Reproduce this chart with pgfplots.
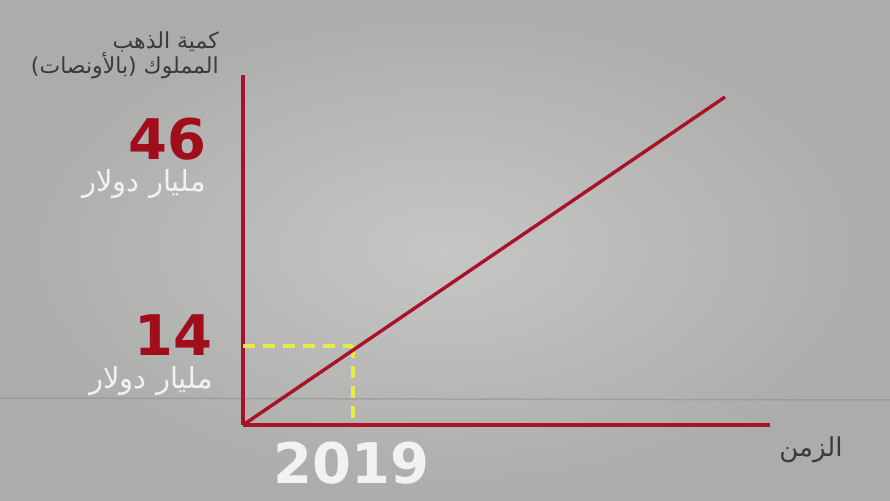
\documentclass[border=0pt]{standalone}
\usepackage{pgfplots}
\pgfplotsset{compat=1.18}
\usepackage{fontspec}
\setmainfont{DejaVu Sans}
\newfontfamily\arabicfont[Script=Arabic]{DejaVu Sans}
\newfontfamily\numfont{DejaVu Sans}
\TeXXeTstate=1
\definecolor{bg}{RGB}{172,172,170}
\definecolor{bglight}{RGB}{198,198,196}
\definecolor{axred}{RGB}{168,18,42}
\definecolor{numred}{RGB}{160,14,28}
\definecolor{dashyel}{RGB}{232,234,70}
\definecolor{labgray}{RGB}{58,58,58}
\definecolor{wtext}{RGB}{242,242,242}
\begin{document}
\begin{tikzpicture}
\shade[inner color=bglight, outer color=bg] (0,0) rectangle (890pt,500pt);
\draw[color=black!45, line width=1.5pt, opacity=0.5] (0,102pt) -- (890pt,100pt);
\begin{axis}[
  at={(243pt,75pt)}, anchor=origin,
  scale only axis, width=527pt, height=350pt,
  xmin=0, xmax=527, ymin=0, ymax=350,
  axis x line=bottom, axis y line=left,
  axis line style={draw=axred, line width=4pt, -},
  xtick=\empty, ytick=\empty,
  clip=false,
]
\addplot[draw=dashyel, line width=3.5pt, dash pattern=on 12pt off 8pt] coordinates {(0,79) (110,79)};
\addplot[draw=dashyel, line width=3.5pt, dash pattern=on 12pt off 8pt] coordinates {(110,79) (110,0)};
\addplot[draw=axred, line width=3.4pt] coordinates {(0,0) (482,328)};
\end{axis}
% y-axis title
\node[anchor=east, text=labgray, font=\arabicfont\fontsize{22pt}{24pt}\selectfont, inner sep=0] at (219pt,458pt) {\beginR كمية الذهب\endR};
\node[anchor=east, text=labgray, font=\arabicfont\fontsize{22pt}{24pt}\selectfont, inner sep=0] at (219pt,434pt) {\beginR المملوك (بالأونصات)\endR};
% 46
\node[anchor=east, text=numred, font=\numfont\bfseries\fontsize{56pt}{60pt}\selectfont, inner sep=0] at (207pt,361pt) {46};
\node[anchor=east, text=wtext, font=\arabicfont\fontsize{29pt}{31pt}\selectfont, inner sep=0] at (206pt,316pt) {\beginR مليار دولار\endR};
% 14
\node[anchor=east, text=numred, font=\numfont\bfseries\fontsize{56pt}{60pt}\selectfont, inner sep=0] at (213pt,165pt) {14};
\node[anchor=east, text=wtext, font=\arabicfont\fontsize{29pt}{31pt}\selectfont, inner sep=0] at (213pt,119pt) {\beginR مليار دولار\endR};
% x labels
\node[text=wtext, font=\numfont\bfseries\fontsize{56pt}{60pt}\selectfont, inner sep=0] at (351pt,37pt) {2019};
\node[text=labgray, font=\arabicfont\fontsize{26pt}{28pt}\selectfont, inner sep=0] at (811pt,50pt) {\beginR الزمن\endR};
\pgfresetboundingbox
\useasboundingbox (0,0) rectangle (890pt,500pt);
\end{tikzpicture}
\end{document}
